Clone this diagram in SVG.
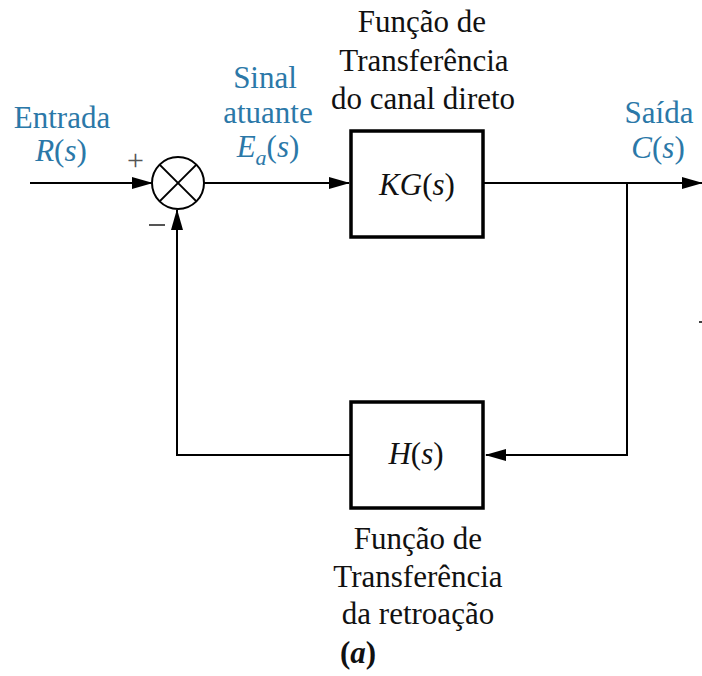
<svg xmlns="http://www.w3.org/2000/svg" width="702" height="676" viewBox="0 0 702 676">
<style>
text{font-family:"Liberation Serif","Times New Roman",serif;font-size:31px;fill:#111;text-anchor:middle}
.blue{fill:#2b78a8}
.i{font-style:italic}
.box{fill:#fff;stroke:#000;stroke-width:3.5}
.ln{fill:none;stroke:#000;stroke-width:2}
.sign{fill:#555;font-size:30px}
</style>
<defs>
<marker id="ah" markerWidth="21" markerHeight="12" refX="20" refY="6" orient="auto" markerUnits="userSpaceOnUse">
<path d="M0,0 L21,6 L0,12 Z" fill="#000"/>
</marker>
</defs>
<rect width="702" height="676" fill="#fff"/>
<g id="connectors">
<line class="ln" x1="30" y1="183" x2="152" y2="183" marker-end="url(#ah)"/>
<line class="ln" x1="204" y1="183" x2="349" y2="183" marker-end="url(#ah)"/>
<line class="ln" x1="483" y1="183" x2="702" y2="183" marker-end="url(#ah)"/>
<polyline class="ln" points="627,183 627,455 486,455" marker-end="url(#ah)"/>
<polyline class="ln" points="351,455 177,455 177,210" marker-end="url(#ah)"/>
</g>
<g id="sum">
<circle cx="178" cy="183" r="26" fill="#fff" stroke="#000" stroke-width="2"/>
<line class="ln" x1="159.6" y1="164.6" x2="196.4" y2="201.4"/>
<line class="ln" x1="196.4" y1="164.6" x2="159.6" y2="201.4"/>
<text class="sign" x="135.5" y="170">+</text>
<line x1="149" y1="225" x2="165" y2="225" stroke="#555" stroke-width="2"/>
</g>
<g id="kg">
<rect class="box" x="351" y="131" width="132" height="106"/>
<text x="417" y="195"><tspan class="i">KG</tspan>(<tspan class="i">s</tspan>)</text>
</g>
<g id="h">
<rect class="box" x="351" y="402" width="132" height="106"/>
<text x="416" y="464"><tspan class="i">H</tspan>(<tspan class="i">s</tspan>)</text>
</g>
<g id="labels">
<text class="blue" x="62" y="128">Entrada</text>
<text class="blue" x="61" y="161"><tspan class="i">R</tspan>(<tspan class="i">s</tspan>)</text>
<text class="blue" x="265" y="88">Sinal</text>
<text class="blue" x="268" y="123">atuante</text>
<text class="blue" x="268" y="157"><tspan class="i">E</tspan><tspan class="i" font-size="22" dy="8">a</tspan><tspan dy="-8">(</tspan><tspan class="i">s</tspan>)</text>
<text class="blue" x="659" y="123">Saída</text>
<text class="blue" x="658" y="158"><tspan class="i">C</tspan>(<tspan class="i">s</tspan>)</text>
<text x="422" y="32">Função de</text>
<text x="424" y="71">Transferência</text>
<text x="423" y="109">do canal direto</text>
<text x="418" y="549">Função de</text>
<text x="418" y="587">Transferência</text>
<text x="418" y="624">da retroação</text>
<text x="358" y="663" font-weight="bold">(<tspan class="i">a</tspan>)</text>
<line x1="699" y1="322" x2="702" y2="322" stroke="#000" stroke-width="1.5"/>
</g>
</svg>
